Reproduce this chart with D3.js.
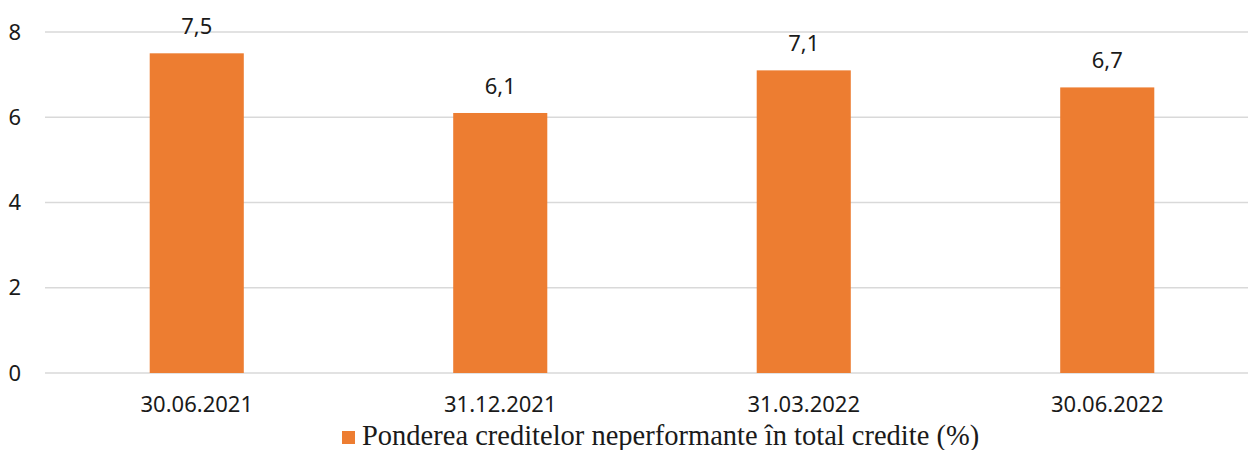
<!DOCTYPE html>
<html>
<head>
<meta charset="utf-8">
<script src="https://cdn.jsdelivr.net/npm/d3@7"></script>
<style>
  body { margin: 0; background: #fff; }
  text { font-family: "Noto Sans", sans-serif; fill: #1a1a1a; }
  .legend-label { font-family: "Liberation Serif", "DejaVu Serif", serif; }
</style>
</head>
<body>
<main></main>
<script>
const categories = ["30.06.2021", "31.12.2021", "31.03.2022", "30.06.2022"];
const values = [7.5, 6.1, 7.1, 6.7];
const yTicks = [0, 2, 4, 6, 8];
const seriesName = "Ponderea creditelor neperformante în total credite (%)";

const W = 1248, H = 450;
const plotLeft = 45, plotRight = 1259, plotTop = 32, plotBottom = 373;

const svg = d3.select("main")
  .append("svg")
  .attr("width", W)
  .attr("height", H);

const x = d3.scaleBand()
  .domain(categories)
  .range([plotLeft, plotRight])
  .paddingInner(0.69)
  .paddingOuter(0.345);

const y = d3.scaleLinear().domain([0, 8]).range([plotBottom, plotTop]);

// gridlines
svg.append("g")
  .selectAll("line")
  .data(yTicks)
  .enter()
  .append("line")
  .attr("x1", plotLeft)
  .attr("x2", plotRight)
  .attr("y1", d => y(d))
  .attr("y2", d => y(d))
  .attr("stroke", "#d9d9d9")
  .attr("stroke-width", 1.5);

// y tick labels
svg.append("g")
  .selectAll("text")
  .data(yTicks)
  .enter()
  .append("text")
  .attr("x", 21)
  .attr("y", d => y(d))
  .attr("dy", "0.35em")
  .style("text-anchor", "end")
  .style("font-size", "22px")
  .text(d => d);

// bars
svg.append("g")
  .selectAll("rect")
  .data(values)
  .enter()
  .append("rect")
  .attr("x", (d, i) => x(categories[i]))
  .attr("width", x.bandwidth())
  .attr("y", d => y(d))
  .attr("height", d => y(0) - y(d))
  .style("fill", "#ed7d31");

// value labels
svg.append("g")
  .selectAll("text")
  .data(values)
  .enter()
  .append("text")
  .attr("x", (d, i) => x(categories[i]) + x.bandwidth() / 2)
  .attr("y", d => y(d) - 19)
  .style("text-anchor", "middle")
  .style("font-size", "22px")
  .text(d => d3.format(".1f")(d).replace(".", ","));

// x labels
svg.append("g")
  .selectAll("text")
  .data(categories)
  .enter()
  .append("text")
  .attr("x", d => x(d) + x.bandwidth() / 2)
  .attr("y", 412)
  .style("text-anchor", "middle")
  .style("font-size", "22px")
  .text(d => d);

// legend
const legend = svg.append("g").attr("id", "legend");
legend.append("rect")
  .attr("x", 342)
  .attr("y", 431)
  .attr("width", 13)
  .attr("height", 13)
  .style("fill", "#ed7d31");
legend.append("text")
  .attr("class", "legend-label")
  .attr("x", 362)
  .attr("y", 445)
  .style("font-size", "28.5px")
  .text(seriesName);
</script>
</body>
</html>
